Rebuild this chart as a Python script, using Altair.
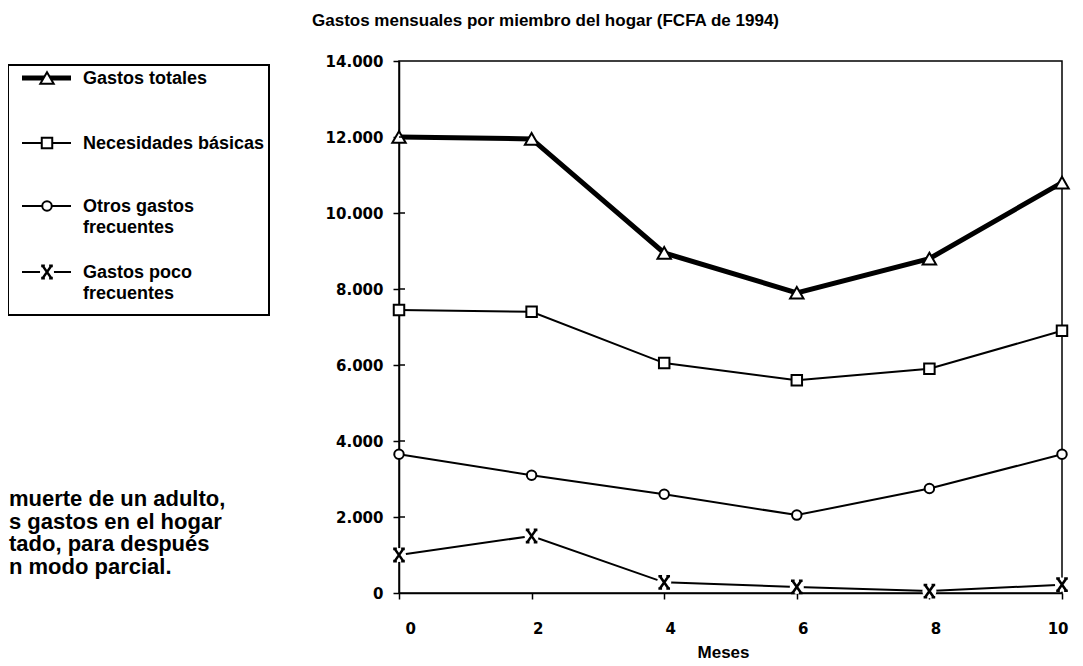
import altair as alt
import pandas as pd

# ---------------- data ----------------
MESES = [0, 2, 4, 6, 8, 10]
SERIES = ["Gastos totales", "Necesidades básicas", "Otros gastos frecuentes", "Gastos poco frecuentes"]
TOTALES = [12000, 11950, 8950, 7900, 8800, 10800]
BASICAS = [7450, 7400, 6050, 5600, 5900, 6900]
OTROS = [3650, 3100, 2600, 2050, 2750, 3650]
POCO = [1000, 1500, 280, 160, 50, 220]
Y_TICKS = [0, 2000, 4000, 6000, 8000, 10000, 12000, 14000]
X_TICKS = [0, 2, 4, 6, 8, 10]
LEGEND_LABELS = ["Gastos totales", "Necesidades básicas", "Otros gastos\nfrecuentes", "Gastos poco\nfrecuentes"]
TITLE = "Gastos mensuales por miembro del hogar (FCFA de 1994)"
NOTE = "muerte de un adulto,\ns gastos en el hogar\ntado, para después\nn modo parcial."
X_TITLE = "Meses"

rows = []
for serie, vals in zip(SERIES, [TOTALES, BASICAS, OTROS, POCO]):
    for m, v in zip(MESES, vals):
        rows.append({"mes": m, "valor": v, "serie": serie})
df = pd.DataFrame(rows)

XPATH = ("M-0.7,-1L0.7,1M-0.7,1L0.7,-1"
         "M-0.95,-1L-0.35,-1M0.35,-1L0.95,-1"
         "M-0.95,1L-0.35,1M0.35,1L0.95,1")
SHAPES = ["triangle-up", "square", "circle", XPATH]
SIZES = [180, 110, 90, 150]
WIDTHS = [5, 2, 2, 2]
MARK_STROKES = [2, 2, 2, 2.6]

TXT_FONT = "Liberation Sans"
NUM_FONT = "DejaVu Sans"

x_scale = alt.Scale(domain=[0, 10], nice=False, zero=False)
y_scale = alt.Scale(domain=[0, 14000], nice=False)

x_axis = alt.Axis(values=X_TICKS, title=X_TITLE, grid=False,
                  labelFont=NUM_FONT, labelFontSize=15, labelFontWeight="bold",
                  labelColor="black", labelPadding=22, labelOffset=6,
                  tickSize=6, tickColor="black", tickWidth=1.5,
                  domainColor="black", domainWidth=1.5,
                  titleFont=TXT_FONT, titleFontSize=17, titleFontWeight="bold",
                  titleColor="black", titleX=324, titleY=59,
                  titleBaseline="middle")
y_axis = alt.Axis(values=Y_TICKS, title=None, grid=False,
                  labelExpr="replace(format(datum.value, ','), ',', '.')",
                  labelFont=NUM_FONT, labelFontSize=15, labelFontWeight="bold",
                  labelColor="black", labelPadding=10,
                  tickSize=6, tickColor="black", tickWidth=1.5,
                  domainColor="black", domainWidth=1.5)

x_enc = alt.X("mes:Q", scale=x_scale, axis=x_axis)
y_enc = alt.Y("valor:Q", scale=y_scale, axis=y_axis)

base = alt.Chart(df).encode(x=x_enc, y=y_enc)

series_layers = []
for i, serie in enumerate(SERIES):
    sub = base.transform_filter(alt.datum.serie == serie)
    series_layers.append(sub.mark_line(color="black", strokeWidth=WIDTHS[i]))
for i, serie in enumerate(SERIES):
    sub = base.transform_filter(alt.datum.serie == serie)
    if i == 3:
        series_layers.append(sub.mark_point(shape="circle", filled=True, color="white",
                                            size=200, opacity=1))
    series_layers.append(sub.mark_point(shape=SHAPES[i], size=SIZES[i], filled=False,
                                        fill="white", fillOpacity=1, stroke="black",
                                        strokeWidth=MARK_STROKES[i], opacity=1))

# inner half of crossing y ticks
tick_df = pd.DataFrame({"valor": Y_TICKS[1:-1]})
inner_ticks = alt.Chart(tick_df).mark_rule(color="black", strokeWidth=1.5).encode(
    y=alt.Y("valor:Q", scale=y_scale, axis=y_axis),
    x=alt.value(0), x2=alt.value(6))

one = pd.DataFrame({"k": [0]})

# legend (manual)
legend_layers = [
    alt.Chart(one).mark_rect(fill="white", stroke="black", strokeWidth=2).encode(
        x=alt.value(-391), x2=alt.value(-130), y=alt.value(4), y2=alt.value(254))
]
row_y = [17, 82, 145, 211]
for i, serie in enumerate(SERIES):
    ry = row_y[i]
    legend_layers.append(
        alt.Chart(one).mark_rule(color="black", strokeWidth=WIDTHS[i]).encode(
            x=alt.value(-377), x2=alt.value(-328), y=alt.value(ry)))
    if i == 3:
        legend_layers.append(
            alt.Chart(one).mark_point(shape="circle", filled=True, color="white",
                                      size=200, opacity=1).encode(
                x=alt.value(-352), y=alt.value(ry)))
    legend_layers.append(
        alt.Chart(one).mark_point(shape=SHAPES[i], size=SIZES[i], filled=False, fill="white",
                                  fillOpacity=1, stroke="black", strokeWidth=MARK_STROKES[i],
                                  opacity=1).encode(
            x=alt.value(-352), y=alt.value(ry)))
    legend_layers.append(
        alt.Chart(pd.DataFrame({"t": [LEGEND_LABELS[i]]})).mark_text(
            align="left", baseline="alphabetic", font=TXT_FONT, fontSize=18,
            fontWeight="bold", color="black", lineBreak="\n", lineHeight=21).encode(
            x=alt.value(-316), y=alt.value(ry + 6), text="t:N"))

title_txt = alt.Chart(pd.DataFrame({"t": [TITLE]})).mark_text(
    align="left", baseline="alphabetic", font=TXT_FONT, fontSize=17, fontWeight="bold",
    color="black").encode(x=alt.value(-87), y=alt.value(-35), text="t:N")

note_txt = alt.Chart(pd.DataFrame({"t": [NOTE]})).mark_text(
    align="left", baseline="alphabetic", font=TXT_FONT, fontSize=22, fontWeight="bold",
    color="black", lineBreak="\n", lineHeight=22.7).encode(
    x=alt.value(-390), y=alt.value(445), text="t:N")

chart = alt.layer(
    *series_layers, inner_ticks, *legend_layers, title_txt, note_txt
).properties(
    width=663, height=532,
    autosize=alt.AutoSizeParams(type="none"),
    padding={"left": 391, "top": 53, "right": 12, "bottom": 72},
    background="white",
).configure_view(stroke="black", strokeWidth=1.5)

chart.save("out.html", embed_options={"renderer": "svg", "actions": False})
